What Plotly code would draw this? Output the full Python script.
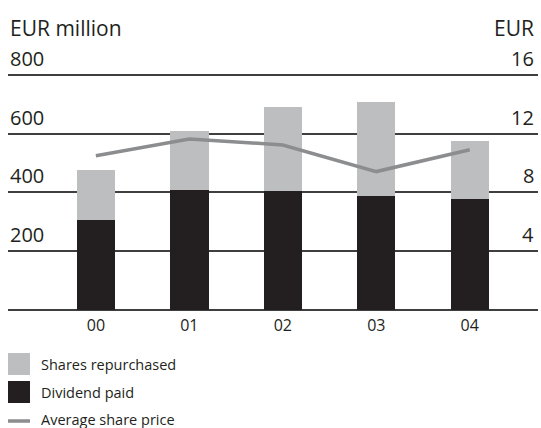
import plotly.graph_objects as go

# Data
years = ["00", "01", "02", "03", "04"]
dividend_paid = [306, 408, 405, 388, 378]          # EUR million
shares_repurchased = [171, 201, 286, 321, 197]     # EUR million
avg_share_price = [10.5, 11.64, 11.23, 9.42, 10.9]  # EUR

left_ticks = [200, 400, 600, 800]
right_ticks = [4, 8, 12, 16]

legend_names = ["Shares repurchased", "Dividend paid", "Average share price"]

FONT = "Open Sans"
TEXT = "#231f20"
GREY_BAR = "#bcbec0"
BLACK_BAR = "#231f20"
LINE_GREY = "#8c8d8f"
GRID = "#3f3f3f"

W, H = 541, 428
M_L, M_R, M_T, M_B = 8, 3, 69, 118

fig = go.Figure()
x_idx = list(range(len(years)))

fig.add_trace(go.Bar(x=x_idx, y=dividend_paid, marker_color=BLACK_BAR,
                     marker_line_width=0, width=0.41, name=legend_names[1]))
fig.add_trace(go.Bar(x=x_idx, y=shares_repurchased, marker_color=GREY_BAR,
                     marker_line_width=0, width=0.41, name=legend_names[0]))
fig.add_trace(go.Scatter(x=x_idx, y=avg_share_price, yaxis="y2", mode="lines",
                         line=dict(color=LINE_GREY, width=3.5),
                         name=legend_names[2]))

fig.update_layout(
    width=W, height=H,
    margin=dict(l=M_L, r=M_R, t=M_T, b=M_B),
    barmode="stack",
    showlegend=False,
    plot_bgcolor="white", paper_bgcolor="white",
    font=dict(family=FONT, color=TEXT),
    xaxis=dict(range=[-0.94, 4.73], tickvals=x_idx, ticktext=years,
               showgrid=False, zeroline=False, showline=False, ticks="",
               tickfont=dict(size=16, color=TEXT), ticklabelstandoff=4),
    yaxis=dict(range=[0, 820], tickvals=left_ticks, showgrid=True,
               gridcolor=GRID, gridwidth=1.5, zeroline=True,
               zerolinecolor=GRID, zerolinewidth=1.5, showline=False,
               ticks="", showticklabels=False),
    yaxis2=dict(range=[0, 16.4], tickvals=right_ticks, overlaying="y",
                side="right", showgrid=False, zeroline=False, showline=False,
                ticks="", showticklabels=False),
)

# Tick labels sit just above their gridlines, inside the plot
for v in left_ticks:
    fig.add_annotation(text=str(v), x=0, xref="paper", xanchor="left",
                       y=v, yref="y", yanchor="bottom", yshift=1,
                       showarrow=False, font=dict(size=20, color=TEXT))
for v in right_ticks:
    fig.add_annotation(text=str(v), x=1, xref="paper", xanchor="right",
                       xshift=-2, y=v, yref="y2", yanchor="bottom", yshift=1,
                       showarrow=False, font=dict(size=20, color=TEXT))

plot_h = H - M_T - M_B
plot_w = W - M_L - M_R


def py(pix):
    return 1 - (pix - M_T) / plot_h


def px(pix):
    return (pix - M_L) / plot_w


# Unit captions
fig.add_annotation(text="EUR million", x=0, xref="paper", xanchor="left",
                   y=py(28), yref="paper", yanchor="middle", showarrow=False,
                   font=dict(size=21, color=TEXT))
fig.add_annotation(text="EUR", x=1, xref="paper", xanchor="right", xshift=-2,
                   y=py(28), yref="paper", yanchor="middle", showarrow=False,
                   font=dict(size=21, color=TEXT))

# Legend drawn below the chart
legend_rows = [364, 392, 419]
legend_swatch = [GREY_BAR, BLACK_BAR, None]
for name, row, col in zip(legend_names, legend_rows, legend_swatch):
    if col:
        fig.add_shape(type="rect", xref="paper", yref="paper",
                      x0=px(8), x1=px(30), y0=py(row - 11), y1=py(row + 11),
                      fillcolor=col, line_width=0)
    else:
        fig.add_shape(type="line", xref="paper", yref="paper",
                      x0=px(8), x1=px(30), y0=py(row + 2), y1=py(row + 2),
                      line=dict(color=LINE_GREY, width=3.5))
    fig.add_annotation(text=name, x=px(39), xref="paper", xanchor="left",
                       y=py(row), yref="paper", yanchor="middle",
                       showarrow=False, font=dict(size=14.5, color=TEXT))

fig.write_html("out.html")
